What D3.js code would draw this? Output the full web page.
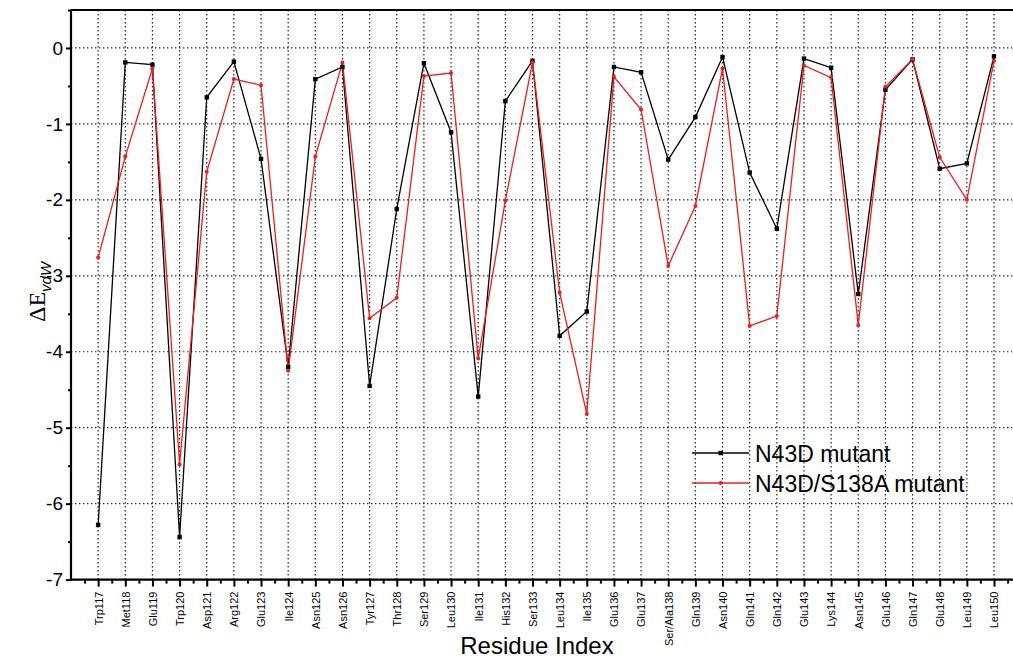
<!DOCTYPE html>
<html><head><meta charset="utf-8">
<script src="https://cdn.jsdelivr.net/npm/d3@7"></script>
<style>body{margin:0;background:#fff}svg{display:block}</style>
</head><body>
<script>
const residues = ["Trp117","Met118","Glu119","Trp120","Asp121","Arg122","Glu123","Ile124","Asn125","Asn126","Tyr127","Thr128","Ser129","Leu130","Ile131","His132","Ser133","Leu134","Ile135","Glu136","Glu137","Ser/Ala138","Gln139","Asn140","Gln141","Gln142","Glu143","Lys144","Asn145","Glu146","Gln147","Glu148","Leu149","Leu150"];
const residueIndex = d3.range(117, 151);
const n43d = [-6.28,-0.19,-0.22,-6.44,-0.65,-0.18,-1.46,-4.2,-0.41,-0.25,-4.45,-2.12,-0.2,-1.11,-4.59,-0.7,-0.17,-3.79,-3.47,-0.25,-0.32,-1.47,-0.91,-0.12,-1.64,-2.38,-0.14,-0.26,-3.24,-0.55,-0.15,-1.59,-1.52,-0.11];
const n43dS138a = [-2.76,-1.43,-0.27,-5.48,-1.63,-0.41,-0.49,-4.25,-1.43,-0.19,-3.56,-3.29,-0.37,-0.33,-4.09,-2.01,-0.19,-3.22,-4.82,-0.38,-0.81,-2.87,-2.08,-0.27,-3.66,-3.53,-0.23,-0.39,-3.65,-0.51,-0.15,-1.44,-2.0,-0.17];
const yTicks = [0,-1,-2,-3,-4,-5,-6,-7];
const seriesNames = ["N43D mutant","N43D/S138A mutant"];

const W = 1013, H = 660;
const L = 71, R = 1013, T = 10, B = 579.6;
const svg = d3.select("body").append("svg").attr("width", W).attr("height", H);
const x = d3.scaleLinear().domain([116, 150.7]).range([L, R]);
const y = d3.scaleLinear().domain([-7, 0.5]).range([B, T]);

// grid
const grid = svg.append("g").attr("stroke", "#222").attr("stroke-width", 1.2).attr("stroke-dasharray", "1.4,2.6");
grid.selectAll(".gx").data(residueIndex).enter().append("line")
  .attr("x1", d => x(d)).attr("x2", d => x(d)).attr("y1", T).attr("y2", B);
grid.selectAll(".gy").data(yTicks.filter(d => d > -7)).enter().append("line")
  .attr("x1", L).attr("x2", R).attr("y1", d => y(d)).attr("y2", d => y(d));

// lines
const line = d3.line().x((d, i) => x(residueIndex[i])).y(d => y(d));
svg.append("path").datum(n43d).attr("d", line).attr("fill", "none").attr("stroke", "#000").attr("stroke-width", 1.3);
svg.append("path").datum(n43dS138a).attr("d", line).attr("fill", "none").attr("stroke", "#ee1c1c").attr("stroke-width", 1.3);
svg.selectAll(".mb").data(n43d).enter().append("rect")
  .attr("x", (d, i) => x(residueIndex[i]) - 2.2).attr("y", d => y(d) - 2.2).attr("width", 4.4).attr("height", 4.4).attr("fill", "#000");
svg.selectAll(".mr").data(n43dS138a).enter().append("circle")
  .attr("cx", (d, i) => x(residueIndex[i])).attr("cy", d => y(d)).attr("r", 2).attr("fill", "#ee1c1c");

// axes
const yAxis = d3.axisLeft(y).tickValues(yTicks).tickSize(5).tickPadding(3).tickFormat(d => String(d));
const gy = svg.append("g").attr("transform", `translate(${L},0)`).call(yAxis);
gy.select(".domain").remove();
gy.selectAll("line").attr("stroke", "#000").attr("stroke-width", 2);
gy.selectAll("text").attr("font-family", "Liberation Sans, Arial, sans-serif").attr("font-size", 19).attr("fill", "#000");
const yMinor = d3.axisLeft(y).tickValues(d3.range(-6.5, 0.6, 1)).tickSize(3).tickFormat("");
const gym = svg.append("g").attr("transform", `translate(${L},0)`).call(yMinor);
gym.select(".domain").remove();
gym.selectAll("line").attr("stroke", "#000").attr("stroke-width", 2);

const xAxis = d3.axisBottom(x).tickValues(residueIndex).tickSize(7).tickPadding(4).tickFormat((d, i) => residues[i]);
const gx = svg.append("g").attr("transform", `translate(0,${B})`).call(xAxis);
gx.select(".domain").remove();
gx.selectAll("line").attr("stroke", "#000").attr("stroke-width", 2);
gx.selectAll("text").attr("font-family", "Liberation Sans, Arial, sans-serif").attr("font-size", 11).attr("fill", "#000")
  .attr("transform", "rotate(-90)").attr("text-anchor", "end").attr("dy", "0.35em").attr("x", -12).attr("y", 0);
const xMinor = d3.axisBottom(x).tickValues(d3.range(116.5, 150.6, 1)).tickSize(4).tickFormat("");
const gxm = svg.append("g").attr("transform", `translate(0,${B})`).call(xMinor);
gxm.select(".domain").remove();
gxm.selectAll("line").attr("stroke", "#000").attr("stroke-width", 2);

// frame lines
svg.append("line").attr("x1", L).attr("x2", R).attr("y1", B).attr("y2", B).attr("stroke", "#000").attr("stroke-width", 2.2);
svg.append("line").attr("x1", L).attr("x2", L).attr("y1", T).attr("y2", B + 1).attr("stroke", "#000").attr("stroke-width", 2.2);
svg.append("line").attr("x1", L).attr("x2", R).attr("y1", T).attr("y2", T).attr("stroke", "#000").attr("stroke-width", 2.2);

// axis titles
svg.append("text").attr("x", 537).attr("y", 654).attr("text-anchor", "middle")
  .attr("font-family", "Liberation Sans, Arial, sans-serif").attr("font-size", 24).attr("fill", "#000").text("Residue Index");
const yt = svg.append("text").attr("transform", "translate(45,292) rotate(-90)").attr("text-anchor", "middle").attr("fill", "#000");
yt.append("tspan").attr("font-family", "Liberation Serif, Times New Roman, serif").attr("font-size", 24).text("ΔE");
yt.append("tspan").attr("font-family", "Liberation Sans, Arial, sans-serif").attr("font-style", "italic").attr("font-size", 15).attr("dy", 6).text("vdW");

// legend
const leg = svg.append("g");
const legColors = ["#000", "#ee1c1c"];
const legY = [453, 483];
seriesNames.forEach((s, i) => {
  leg.append("line").attr("x1", 692).attr("x2", 749).attr("y1", legY[i]).attr("y2", legY[i]).attr("stroke", legColors[i]).attr("stroke-width", 1.3);
  if (i === 0) leg.append("rect").attr("x", 718.5).attr("y", legY[i] - 2.2).attr("width", 4.4).attr("height", 4.4).attr("fill", legColors[i]);
  else leg.append("circle").attr("cx", 720.7).attr("cy", legY[i]).attr("r", 2).attr("fill", legColors[i]);
  leg.append("text").attr("x", 755).attr("y", legY[i] + 8.5).attr("font-family", "Liberation Sans, Arial, sans-serif")
    .attr("font-size", 23).attr("fill", "#000").text(s);
});
</script>
</body></html>
